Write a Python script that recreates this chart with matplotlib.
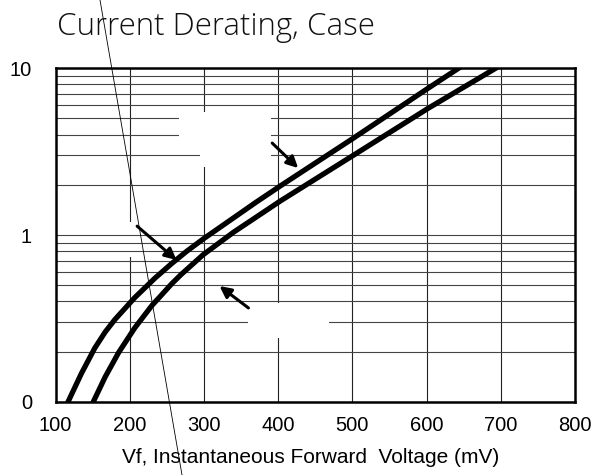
import matplotlib
matplotlib.use("Agg")
import matplotlib.pyplot as plt
from matplotlib.lines import Line2D
from matplotlib.patches import Rectangle

# data (Vf in mV, If on log scale)
vf_upper = [117, 135, 153, 167, 180, 207, 234, 256, 277, 299, 370, 403, 501, 602, 643]
if_upper = [0.1, 0.148, 0.210, 0.262, 0.311, 0.422, 0.551, 0.671, 0.80, 0.946, 1.57, 1.97, 3.8, 7.59, 10]
vf_lower = [151, 167, 185, 207, 230, 257, 269, 299, 340, 376, 403, 501, 602, 693]
if_lower = [0.1, 0.141, 0.197, 0.278, 0.378, 0.512, 0.578, 0.762, 1.04, 1.33, 1.60, 3.0, 5.75, 10]

x_ticks = [100, 200, 300, 400, 500, 600, 700, 800]
y_ticks = [0.1, 1, 10]
y_labels = ["0", "1", "10"]
y_minor = [m * d for d in (0.1, 1) for m in range(2, 10)]

title = "Current Derating, Case"
xlabel = "Vf, Instantaneous Forward  Voltage (mV)"

W, H = 595, 475
fig = plt.figure(figsize=(W / 100, H / 100), dpi=100)
ax = fig.add_axes([55.5 / W, 1 - 401.7 / H, 519.5 / W, 333.4 / H])
ax.set_yscale("log")
ax.set_xlim(100, 800)
ax.set_ylim(0.1, 10)

# grid
ax.set_axisbelow(True)
ax.set_yticks(y_ticks)
ax.set_yticklabels(y_labels)
ax.set_yticks(y_minor, minor=True)
ax.set_xticks(x_ticks)
ax.yaxis.grid(True, which="both", color="#444444", lw=0.8)
ax.vlines(x_ticks[1:-1], 0.1, 10, color="#222222", lw=0.8, zorder=0.3)

# white label boxes hiding grid
ax.add_patch(Rectangle((194, 0.74), 14, 0.46, color="white", lw=0, zorder=0.4))
ax.add_patch(Rectangle((266, 3.47), 124, 2.0, color="white", lw=0, zorder=0.7))
ax.add_patch(Rectangle((295, 2.56), 95, 1.5, color="white", lw=0, zorder=0.7))
ax.add_patch(Rectangle((359, 0.241), 110, 0.15, color="white", lw=0, zorder=0.7))

ax.plot(vf_upper, if_upper, color="black", lw=3.8, zorder=2, solid_joinstyle="round")
ax.plot(vf_lower, if_lower, color="black", lw=3.8, zorder=2, solid_joinstyle="round")

arrow = dict(arrowstyle="-|>", color="black", lw=2.2, mutation_scale=17, shrinkA=0, shrinkB=0)
ax.annotate("", xy=(427, 2.52), xytext=(392, 3.56), arrowprops=arrow, zorder=3)
ax.annotate("", xy=(263, 0.708), xytext=(210, 1.13), arrowprops=arrow, zorder=3)
ax.annotate("", xy=(321, 0.494), xytext=(360, 0.365), arrowprops=arrow, zorder=3)

for s in ax.spines.values():
    s.set_linewidth(1.8)
    s.set_color("black")
    s.set_zorder(4)

ax.tick_params(axis="both", which="both", length=0)
ax.tick_params(axis="x", pad=10, labelsize=14.5)
ax.tick_params(axis="y", pad=17, labelsize=14.5)
for lab in ax.get_xticklabels() + ax.get_yticklabels():
    lab.set_family("Liberation Sans")

fig.text(311 / W, 1 - 463 / H, xlabel, ha="center", va="baseline",
         fontsize=15, family="Liberation Sans")
fig.text(57 / W, 1 - 35 / H, title, ha="left", va="baseline",
         fontsize=22.5, family="Open Sans", fontweight=300, color="#111111")

# thin stray diagonal line across the figure
fig.add_artist(Line2D([100 / W, 182 / W], [1, 0], transform=fig.transFigure,
                      color="black", lw=0.6))

fig.savefig("out.png", dpi=100)
